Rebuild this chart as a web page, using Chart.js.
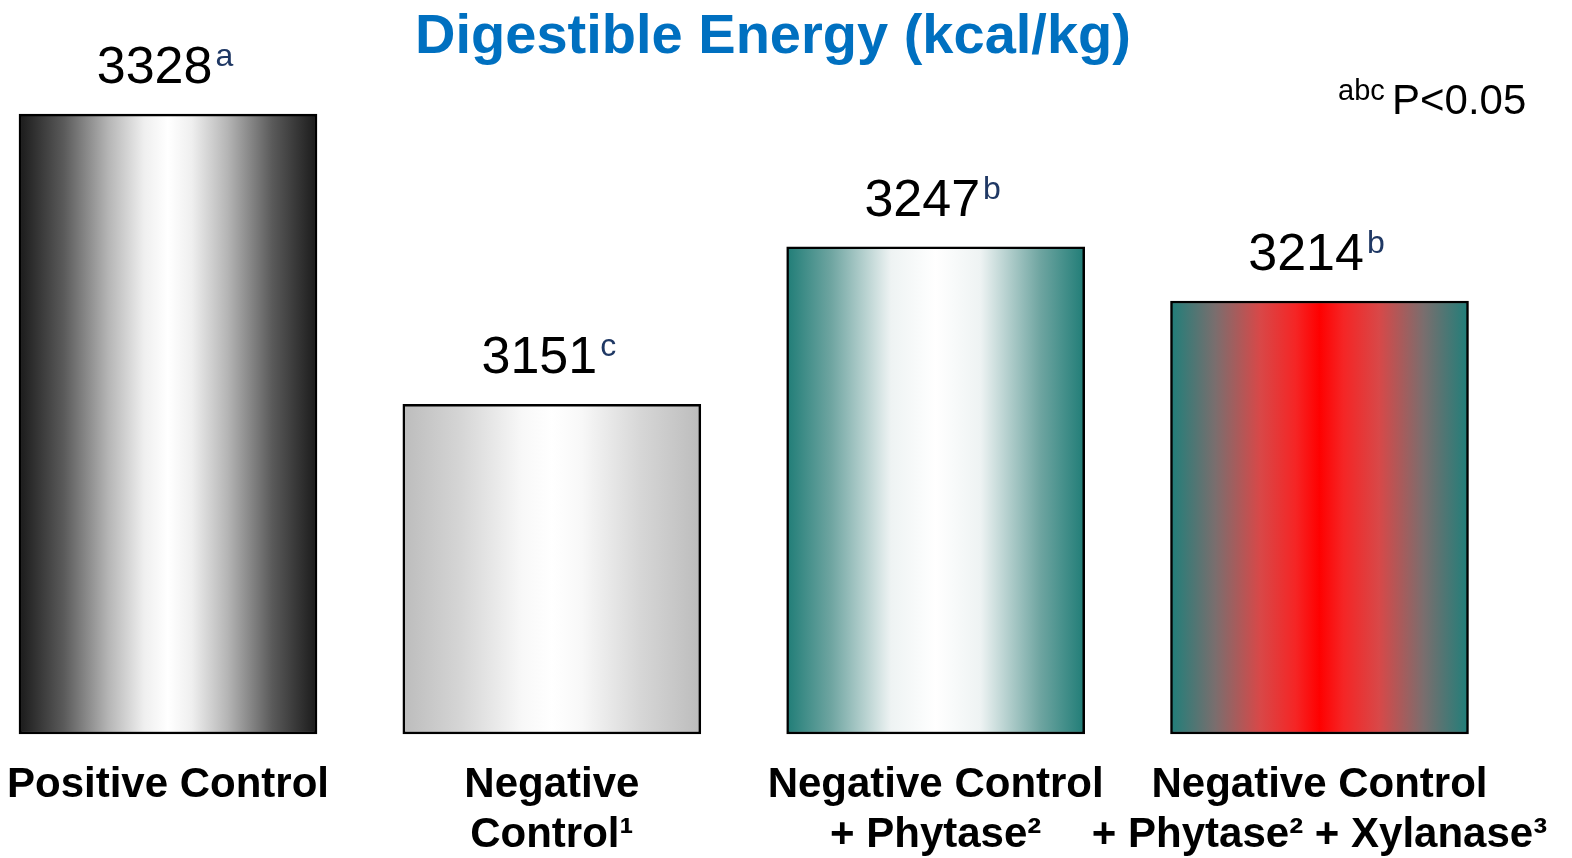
<!DOCTYPE html>
<html>
<head>
<meta charset="utf-8">
<script src="https://cdn.jsdelivr.net/npm/chart.js@4/dist/chart.umd.min.js"></script>
<style>
  html, body { margin: 0; padding: 0; background: #ffffff; }
  #wrap { width: 1572px; height: 858px; position: relative; }
</style>
</head>
<body>
<div id="wrap"><canvas id="chart" width="1572" height="858"></canvas></div>
<script>
// Treatments (x-axis labels, multi-line)
const categories = [
  ['Positive Control'],
  ['Negative', 'Control\u00B9'],
  ['Negative Control', '+ Phytase\u00B2'],
  ['Negative Control', '+ Phytase\u00B2 + Xylanase\u00B3']
];
// Digestible energy, kcal/kg
const energyValues = [3328, 3151, 3247, 3214];
// Significance letters shown after each value
const sigLetters = ['a', 'c', 'b', 'b'];

const FONT = "'Liberation Sans', Arial, Helvetica, sans-serif";
const BAR_W = 298;
const Y_MIN = 2950;
const Y_MAX = 3350;

// Horizontal "cylinder" shading for each bar: [offset, colour]
const barShades = [
  [[0, '#1a1a1a'], [0.15, '#5a5a5a'], [0.3, '#b5b5b5'], [0.42, '#efefef'], [0.5, '#ffffff'],
   [0.58, '#efefef'], [0.7, '#b5b5b5'], [0.85, '#5a5a5a'], [1, '#1a1a1a']],
  [[0, '#bcbcbc'], [0.2, '#d6d6d6'], [0.4, '#f8f8f8'], [0.5, '#ffffff'],
   [0.6, '#f8f8f8'], [0.8, '#d6d6d6'], [1, '#bcbcbc']],
  [[0, '#207d77'], [0.15, '#6fa5a1'], [0.35, '#eef3f3'], [0.5, '#ffffff'],
   [0.65, '#eef3f3'], [0.85, '#6fa5a1'], [1, '#207d77']],
  [[0, '#1f7f7a'], [0.15, '#7a6e6e'], [0.3, '#d84848'], [0.42, '#f52525'], [0.5, '#ff0000'],
   [0.58, '#f52525'], [0.7, '#d84848'], [0.85, '#7a6e6e'], [1, '#1f7f7a']]
];

function barFill(ctx) {
  const chart = ctx.chart;
  const xScale = chart.scales.x;
  const stops = barShades[ctx.dataIndex];
  if (!chart.chartArea || !xScale) return stops[0][1];
  const cx = xScale.getPixelForValue(ctx.dataIndex);
  const g = chart.ctx.createLinearGradient(cx - BAR_W / 2, 0, cx + BAR_W / 2, 0);
  stops.forEach(([o, c]) => g.addColorStop(o, c));
  return g;
}

// Title, significance note and value labels
const annotations = {
  id: 'annotations',
  afterDatasetsDraw(chart) {
    const c = chart.ctx;
    c.save();
    c.textBaseline = 'alphabetic';

    // title
    c.fillStyle = '#0070c0';
    c.font = `bold 56px ${FONT}`;
    c.textAlign = 'center';
    c.fillText('Digestible Energy (kcal/kg)', 773, 53);

    // significance note
    c.textAlign = 'left';
    c.fillStyle = '#000000';
    c.font = `29px ${FONT}`;
    c.fillText('abc', 1338, 100);
    c.font = `42px ${FONT}`;
    c.fillText('P<0.05', 1392, 114);

    // value + letter above each bar
    const meta = chart.getDatasetMeta(0);
    meta.data.forEach((bar, i) => {
      const num = String(energyValues[i]);
      const sup = sigLetters[i];
      c.font = `52px ${FONT}`;
      const wNum = c.measureText(num).width;
      c.font = `32px ${FONT}`;
      const wSup = c.measureText(sup).width;
      const gap = 3;
      const total = wNum + gap + wSup;
      const x0 = bar.x - 3 - total / 2;
      const base = bar.y - 31;
      c.font = `52px ${FONT}`;
      c.fillStyle = '#000000';
      c.fillText(num, x0, base);
      c.font = `32px ${FONT}`;
      c.fillStyle = '#1f3864';
      c.fillText(sup, x0 + wNum + gap, base - 17);
    });
    c.restore();
  }
};

new Chart(document.getElementById('chart'), {
  type: 'bar',
  data: {
    labels: categories,
    datasets: [{
      data: energyValues,
      base: Y_MIN,
      backgroundColor: barFill,
      borderColor: '#000000',
      borderWidth: 2.5,
      borderSkipped: false,
      barThickness: BAR_W,
      clip: false
    }]
  },
  options: {
    responsive: false,
    animation: false,
    events: [],
    layout: { padding: { top: 78, left: 168, right: 252.5, bottom: 0 } },
    plugins: {
      legend: { display: false },
      title: { display: false },
      tooltip: { enabled: false }
    },
    scales: {
      x: {
        offset: false,
        grid: { display: false, drawTicks: false },
        border: { display: false },
        ticks: {
          color: '#000000',
          font: { family: FONT, size: 42, weight: 'bold', lineHeight: 50 / 42 },
          padding: 26,
          autoSkip: false,
          maxRotation: 0,
          minRotation: 0
        },
        afterFit(scale) {
          scale.height = 124;
          scale.paddingLeft = 0;
          scale.paddingRight = 0;
        }
      },
      y: {
        display: false,
        min: Y_MIN,
        max: Y_MAX
      }
    }
  },
  plugins: [annotations]
});
</script>
</body>
</html>
